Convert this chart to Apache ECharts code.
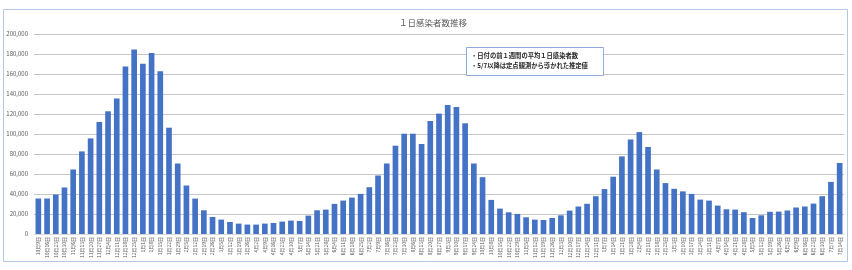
<!DOCTYPE html>
<html>
<head>
<meta charset="utf-8">
<script src="https://cdn.jsdelivr.net/npm/echarts@6/dist/echarts.min.js"></script>
<style>
  html, body { margin: 0; padding: 0; background: #fff; }
  #chart { width: 852px; height: 270px; }
</style>
</head>
<body>
<div id="chart"></div>
<script>
const title = '１日感染者数推移';
const noteLines = ['・日付の前１週間の平均１日感染者数', '・5/7以降は定点観測から導かれた推定値'];

const dates = [
  '10月9日', '10月16日', '10月23日', '10月30日', '11月6日', '11月13日', '11月20日', '11月27日',
  '12月4日', '12月11日', '12月18日', '12月25日', '1月1日', '1月8日', '1月15日', '1月22日', '1月29日',
  '2月5日', '2月12日', '2月19日', '2月26日', '3月5日', '3月12日', '3月19日', '3月26日',
  '4月2日', '4月9日', '4月16日', '4月23日', '4月30日', '5月7日', '5月14日', '5月21日', '5月28日',
  '6月4日', '6月11日', '6月18日', '6月25日', '7月2日', '7月9日', '7月16日', '7月23日', '7月30日',
  '8月6日', '8月13日', '8月20日', '8月27日', '9月3日', '9月10日', '9月17日', '9月24日',
  '10月1日', '10月8日', '10月15日', '10月22日', '10月29日', '11月5日', '11月12日', '11月19日', '11月26日',
  '12月3日', '12月10日', '12月17日', '12月24日', '12月31日', '1月7日', '1月14日', '1月21日', '1月28日',
  '2月4日', '2月11日', '2月18日', '2月25日', '3月3日', '3月10日', '3月17日', '3月24日', '3月31日',
  '4月7日', '4月14日', '4月21日', '4月28日', '5月5日', '5月12日', '5月19日', '5月26日',
  '6月2日', '6月9日', '6月16日', '6月23日', '6月30日', '7月7日', '7月14日'
];

const infected = [
  35500, 35500, 39500, 46500, 64500, 82600, 95600, 112000,
  122700, 135400, 167500, 184600, 170200, 180900, 162800, 106300, 70500,
  48500, 35400, 23700, 17000, 14400, 12000, 10400, 9400,
  9400, 10400, 11000, 12400, 13400, 13000, 18400, 23700, 24400,
  30100, 33400, 36400, 40100, 46800, 58500, 70500, 88300, 100300,
  100300, 90000, 113000, 120400, 129100, 127000, 110700, 70500,
  56800, 34100, 25400, 21700, 20100, 16700, 14400, 14000, 16000,
  18700, 23400, 27500, 30200, 37800, 44900, 57300, 77600, 94500,
  101900, 87000, 64500, 50900, 45200, 42600, 40100, 34400, 33400,
  28400, 24700, 24400, 21800, 16000, 18700, 22200, 22400,
  23500, 26500, 27500, 30400, 37800, 52100, 71000
];

const yMin = 0;
const yMax = 200000;
const yStep = 20000;

const font = '"Noto Sans CJK JP", "Noto Sans", sans-serif';

const chart = echarts.init(document.getElementById('chart'), null, { renderer: 'canvas' });

const option = {
  backgroundColor: '#ffffff',
  animation: false,
  title: {
    text: title,
    left: 428,
    textAlign: 'center',
    top: 14,
    textStyle: { fontSize: 8.5, fontWeight: 'normal', color: '#595959', fontFamily: font }
  },
  grid: { left: 34, right: 8, top: 34, bottom: 36, containLabel: false },
  xAxis: {
    type: 'category',
    data: dates,
    axisLine: { show: true, lineStyle: { color: '#d9d9d9', width: 1 } },
    axisTick: { show: false },
    axisLabel: {
      interval: 0,
      rotate: 90,
      margin: 3,
      fontSize: 5,
      color: '#595959',
      fontFamily: font
    }
  },
  yAxis: {
    type: 'value',
    min: yMin,
    max: yMax,
    interval: yStep,
    axisLine: { show: false },
    axisTick: { show: false },
    splitLine: { lineStyle: { color: '#c6c6c6', width: 1 } },
    axisLabel: {
      margin: 6,
      fontSize: 6,
      color: '#595959',
      fontFamily: font,
      formatter: v => v.toLocaleString('en-US')
    }
  },
  series: [{
    type: 'bar',
    data: infected,
    barCategoryGap: '35%',
    itemStyle: { color: '#4472c4' }
  }],
  graphic: [
    {
      type: 'rect',
      shape: { x: 3.5, y: 9.5, width: 844, height: 252 },
      style: { fill: null, stroke: '#b4c7e7', lineWidth: 1 },
      silent: true
    },
    {
      type: 'rect',
      shape: { x: 466.5, y: 47.5, width: 137, height: 28 },
      style: { fill: '#ffffff', stroke: '#8faadc', lineWidth: 1 },
      z: 100
    },
    {
      type: 'text',
      left: 471,
      top: 51,
      z: 101,
      style: {
        text: noteLines.join('\n'),
        fontSize: 6.3,
        lineHeight: 10,
        fontWeight: 'bold',
        fill: '#262626',
        fontFamily: font
      }
    }
  ]
};

chart.setOption(option);
</script>
</body>
</html>
